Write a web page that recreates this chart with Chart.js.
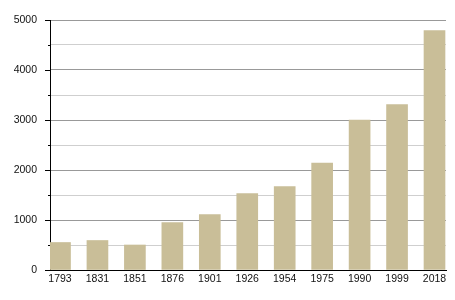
<!DOCTYPE html>
<html>
<head>
<meta charset="utf-8">
<script src="https://cdn.jsdelivr.net/npm/chart.js@4"></script>
<style>
  html, body { margin: 0; padding: 0; background: #fff; }
  #wrap { width: 455px; height: 300px; }
</style>
</head>
<body>
<div id="wrap"><canvas id="chart" width="455" height="300"></canvas></div>
<script>
// Data
const years = ['1793', '1831', '1851', '1876', '1901', '1926', '1954', '1975', '1990', '1999', '2018'];
const population = [550, 590, 500, 950, 1110, 1530, 1670, 2140, 3000, 3310, 4790];
const yTicks = [0, 1000, 2000, 3000, 4000, 5000];

// small tick marks on the y axis (long for labelled values, short for halves)
const yTickMarks = {
    id: 'yTickMarks',
    afterDraw(chart) {
        const y = chart.scales.y;
        const ctx = chart.ctx;
        ctx.save();
        ctx.strokeStyle = '#000';
        ctx.lineWidth = 1;
        y.ticks.forEach(t => {
            const py = Math.round(y.getPixelForValue(t.value)) + 0.5;
            const len = yTicks.includes(t.value) ? 5 : 2;
            ctx.beginPath();
            ctx.moveTo(y.right - len, py);
            ctx.lineTo(y.right, py);
            ctx.stroke();
        });
        ctx.restore();
    }
};

const ctx = document.getElementById('chart');
new Chart(ctx, {
    type: 'bar',
    data: {
        datasets: [{
            data: population.map((v, i) => ({ x: i, y: v })),
            backgroundColor: '#c9be98',
            borderWidth: 0,
            barThickness: 21
        }]
    },
    options: {
        responsive: false,
        animation: false,
        layout: { padding: { top: 20, right: 9, left: 0, bottom: 0 } },
        plugins: {
            legend: { display: false },
            tooltip: { enabled: false }
        },
        scales: {
            x: {
                type: 'linear',
                offset: false,
                min: -0.267,
                max: 10.307,
                afterBuildTicks: (scale) => {
                    scale.ticks = years.map((_, i) => ({ value: i }));
                },
                afterFit: (scale) => {
                    scale.height = 30;
                    scale.paddingLeft = 0;
                    scale.paddingRight = 0;
                },
                grid: { display: false, drawTicks: false, offset: false },
                border: { display: true, color: '#000', width: 1 },
                ticks: {
                    autoSkip: false,
                    maxRotation: 0,
                    padding: 3,
                    color: '#111',
                    font: { family: 'Liberation Sans', size: 10.5 },
                    callback: (v) => years[v]
                }
            },
            y: {
                min: 0,
                max: 5000,
                afterFit: (scale) => {
                    scale.width = 50;
                    scale.paddingTop = 0;
                    scale.paddingBottom = 0;
                },
                grid: {
                    drawTicks: false,
                    color: (c) => {
                        const v = c.tick ? c.tick.value : 0;
                        if (v === 0) return '#000';
                        return yTicks.includes(v) ? '#999' : '#cfcfcf';
                    }
                },
                border: { display: true, color: '#000', width: 1 },
                ticks: {
                    stepSize: 500,
                    padding: 13,
                    color: '#111',
                    font: { family: 'Liberation Sans', size: 10.5 },
                    callback: (v) => yTicks.includes(v) ? String(v) : ''
                }
            }
        }
    },
    plugins: [yTickMarks]
});
</script>
</body>
</html>
